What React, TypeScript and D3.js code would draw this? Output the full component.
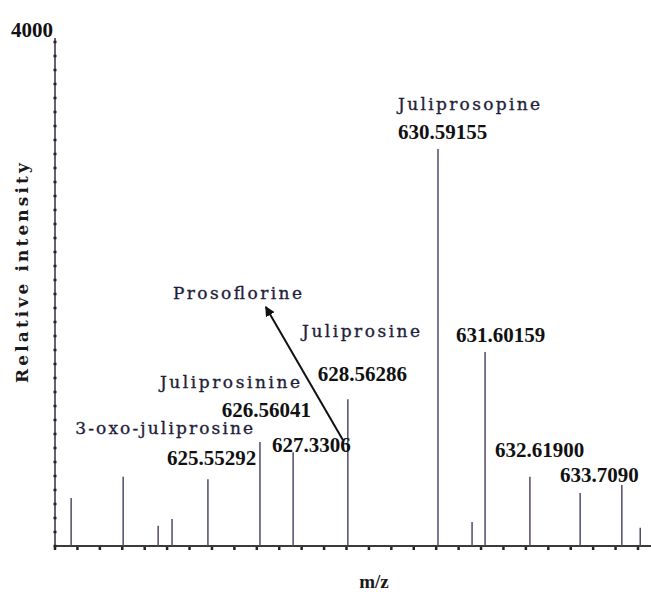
import * as d3 from 'd3'

// peak list (m/z, relative intensity)
const peakMz = [622.36, 623.52, 624.3, 624.61, 625.41, 626.57, 627.31, 628.53, 630.54, 631.3, 631.59, 632.59, 633.71, 634.64, 635.05]
const peakIntensity = [380, 550, 160, 215, 530, 825, 745, 1165, 3150, 190, 1540, 550, 420, 485, 145]

// compound names and m/z labels, placed in data units
const nameText = ['Juliprosopine', 'Prosoflorine', 'Juliprosine', 'Juliprosinine', '3-oxo-juliprosine']
const nameMz = [629.65, 624.63, 627.51, 624.34, 622.45]
const nameY = [3460, 1960, 1659, 1254, 889]

const massText = ['630.59155', '628.56286', '631.60159', '626.56041', '625.55292', '627.3306', '632.61900', '633.7090']
const massMz = [629.65, 627.86, 630.94, 625.72, 624.5, 626.84, 631.81, 633.26]
const massY = [3230, 1310, 1619, 1024, 643, 746, 706, 508]

// arrow from the 627.3306 label up to Prosoflorine
const arrowFrom = [628.42, 841]
const arrowTo = [626.7, 1897]

const yMax = 4000
const yMinorSteps = 36
const xTickStep = 0.5

const W = 651
const H = 592

// rendered widths of the names in the scan
const nameWidth = [142, 129, 118, 140, 178]

export default function App() {
  const x = d3.scaleLinear().domain([622, 635.29]).range([55, 651])
  const y = d3.scaleLinear().domain([0, yMax]).range([546, 42])

  const xTicks = d3.range(622, 635.01, xTickStep)
  const yTicks = d3.range(0, yMax + 1, yMax / yMinorSteps)

  const ax = x(arrowFrom[0])
  const ay = y(arrowFrom[1])
  const bx = x(arrowTo[0])
  const by = y(arrowTo[1])

  const nameFont = '"DejaVu Serif", serif'
  const numFont = '"Liberation Serif", "Times New Roman", serif'

  return (
    <svg
      width={W}
      height={H}
      style={{ position: 'absolute', left: 0, top: 0, background: '#fff' }}
    >
      <defs>
        <marker id="head" viewBox="0 0 10 10" refX="9" refY="5" markerWidth="5" markerHeight="5" orient="auto">
          <path d="M0,0 L10,5 L0,10 z" fill="#111" />
        </marker>
      </defs>

      {/* axes */}
      <line x1={x(622)} x2={x(622)} y1={y(yMax) - 4} y2={y(0)} stroke="#6a5f78" strokeWidth={2} />
      <line x1={x(622)} x2={W} y1={y(0)} y2={y(0)} stroke="#3a3a3a" strokeWidth={2.2} />

      {yTicks.map((t, i) => (
        <line key={`yt${i}`} x1={x(622) - 1.5} x2={x(622) + 1.5} y1={y(t)} y2={y(t)} stroke="#222" strokeWidth={2.5} />
      ))}
      {xTicks.map((t, i) => (
        <line key={`xt${i}`} x1={x(t)} x2={x(t)} y1={y(0) + 1} y2={y(0) + 4} stroke="#222" strokeWidth={2.5} />
      ))}

      {/* peaks */}
      {peakMz.map((m, i) => (
        <line key={`p${i}`} x1={x(m)} x2={x(m)} y1={y(0)} y2={y(peakIntensity[i])} stroke="#55486a" strokeWidth={1.5} />
      ))}

      {/* axis labels */}
      <text x={x(622) - 2} y={37} textAnchor="end" fontFamily={numFont} fontWeight="bold" fontSize={21} fill="#111">
        4000
      </text>
      <text
        transform={`translate(28,273) rotate(-90)`}
        textAnchor="middle"
        fontFamily={nameFont}
        fontWeight="bold"
        fontSize={17}
        fill="#1a1a1a"
        textLength={220}
        lengthAdjust="spacing"
      >
        Relative intensity
      </text>
      <text x={374} y={588} textAnchor="middle" fontFamily={numFont} fontWeight="bold" fontSize={19} fill="#1a1a1a">
        m/z
      </text>

      {/* compound names */}
      {nameText.map((t, i) => (
        <text
          key={`n${i}`}
          x={x(nameMz[i])}
          y={y(nameY[i])}
          fontFamily={nameFont}
          fontSize={17}
          fill="#1e1e3a"
          stroke="#1e1e3a"
          strokeWidth={0.35}
          textLength={nameWidth[i]}
          lengthAdjust="spacing"
        >
          {t}
        </text>
      ))}

      {/* m/z values */}
      {massText.map((t, i) => (
        <text key={`m${i}`} x={x(massMz[i])} y={y(massY[i])} fontFamily={numFont} fontWeight="bold" fontSize={21} fill="#111">
          {t}
        </text>
      ))}

      <line x1={ax} y1={ay} x2={bx} y2={by} stroke="#111" strokeWidth={2} markerEnd="url(#head)" />
    </svg>
  )
}
